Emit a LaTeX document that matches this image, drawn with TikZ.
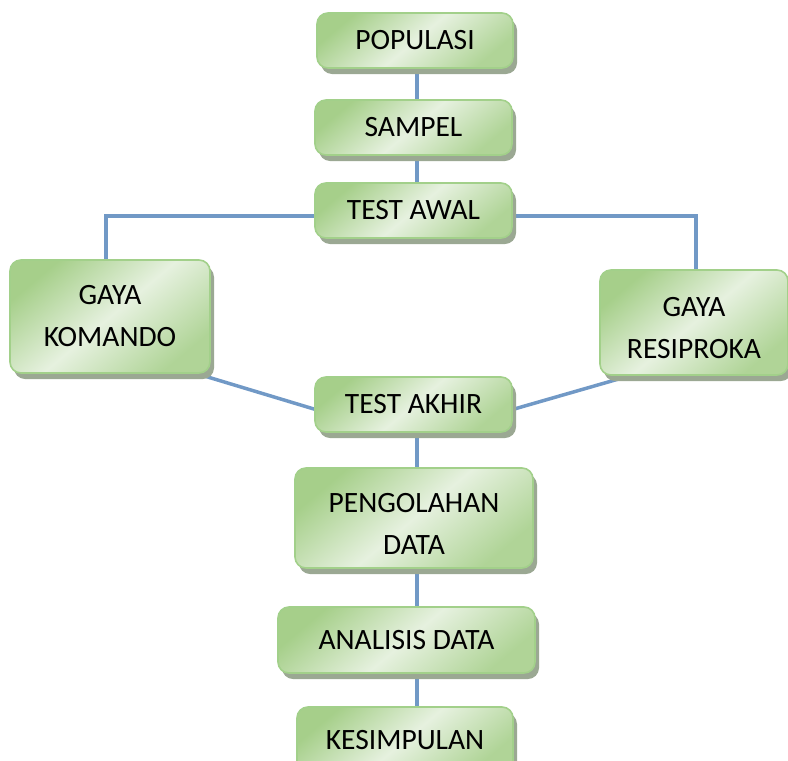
\documentclass[tikz,border=0pt]{standalone}
\usepackage{fontspec}
\setmainfont{Carlito}
\usetikzlibrary{shadows,backgrounds,calc}
\definecolor{gDark}{HTML}{A6CF8A}
\definecolor{gLight}{HTML}{E6F1DF}
\definecolor{gBorder}{HTML}{A2D08A}
\definecolor{shadowc}{HTML}{9BA893}
\definecolor{linec}{HTML}{7199C6}
\tikzset{
  box/.style={rounded corners=11pt, draw=gBorder, line width=1.6pt,
    top color=gDark, bottom color=gDark!85!gLight, middle color=gLight, shading angle=40,
    drop shadow={shadow xshift=4pt, shadow yshift=-6pt, fill=shadowc, opacity=1},
    align=center, inner sep=0pt, font=\fontsize{29.5}{42}\selectfont, text=black},
  conn/.style={draw=linec, line width=3.5pt}
}
\begin{document}
\begin{tikzpicture}[x=1pt,y=1pt]
\useasboundingbox (0,0) rectangle (788,-761);
\begin{scope}
\clip (0,0) rectangle (788,-761);
\node[box, minimum width=196pt, minimum height=55pt] (pop) at (415,-40.5) {POPULASI};
\node[box, minimum width=197pt, minimum height=55pt] (samp) at (413.5,-127.5) {SAMPEL};
\node[box, minimum width=197pt, minimum height=55pt] (awal) at (413.5,-210.5) {TEST AWAL};
\node[box, minimum width=200pt, minimum height=113pt] (kom) at (110,-316.5) {GAYA\\KOMANDO};
\node[box, minimum width=188pt, minimum height=105pt] (res) at (694,-322.5) {\rule{0pt}{30pt}GAYA\\RESIPROKA};
\node[box, minimum width=197pt, minimum height=55pt] (akhir) at (413.5,-404.5) {TEST AKHIR};
\node[box, minimum width=238pt, minimum height=100pt] (olah) at (414,-518) {\rule{0pt}{30pt}PENGOLAHAN\\DATA};
\node[box, minimum width=257pt, minimum height=66pt] (anal) at (406.5,-640) {ANALISIS DATA};
\node[box, minimum width=216pt, minimum height=66pt] (kes) at (405,-740) {KESIMPULAN};
\coordinate (spine) at (417,0);
\coordinate (hl) at (106,-216);
\coordinate (hr) at (696,-216);
\begin{pgfonlayer}{background}
\draw[conn] (pop.south -| spine) -- (samp.north -| spine);
\draw[conn] (samp.south -| spine) -- (awal.north -| spine);
\draw[conn] (awal.west |- hl) -- (hl) -- (hl |- kom.north);
\draw[conn] (awal.east |- hr) -- (hr) -- (hr |- res.north);
\draw[conn] ([shift={(-7,-2)}]kom.south east) -- ([shift={(3,-5.5)}]akhir.west);
\draw[conn] ([shift={(27,-1)}]res.south west) -- ([shift={(-2,-5.5)}]akhir.east);
\draw[conn] (akhir.south -| spine) -- (olah.north -| spine);
\draw[conn] (olah.south -| spine) -- (anal.north -| spine);
\draw[conn] (anal.south -| spine) -- (kes.north -| spine);
\end{pgfonlayer}
\end{scope}
\end{tikzpicture}
\end{document}
